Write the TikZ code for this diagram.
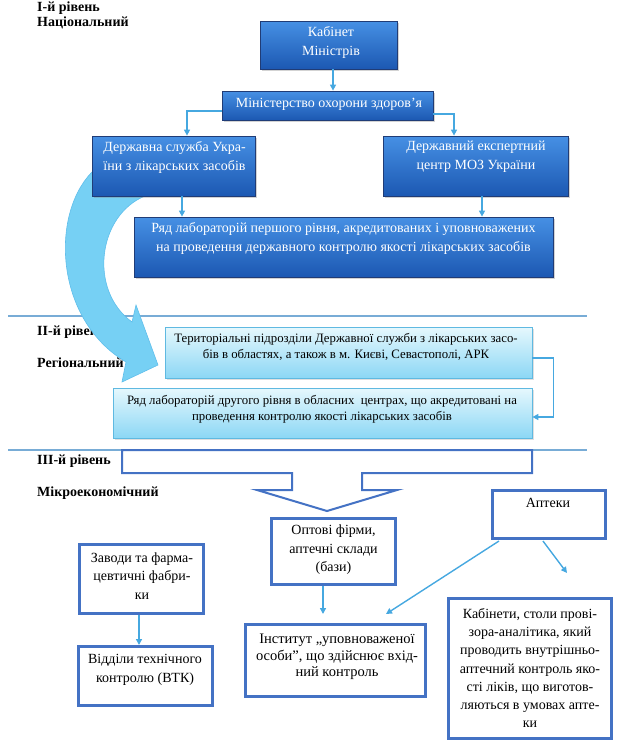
\documentclass[tikz,border=0pt]{standalone}
\usepackage{fontspec}
\setmainfont{Liberation Serif}
\newfontfamily\lser{Liberation Serif}
\usetikzlibrary{arrows.meta,shadows}
\definecolor{dkbtop}{RGB}{70,144,228}
\definecolor{dkbbot}{RGB}{28,88,178}
\definecolor{dkbdraw}{RGB}{32,60,118}
\definecolor{ltop}{RGB}{230,248,253}
\definecolor{lbot}{RGB}{140,215,245}
\definecolor{ldraw}{RGB}{95,185,225}
\definecolor{conncol}{RGB}{70,168,224}
\definecolor{sepcol}{RGB}{120,172,214}
\definecolor{bord}{RGB}{68,114,196}
\definecolor{bandcol}{RGB}{118,208,244}
\definecolor{banddraw}{RGB}{95,190,235}
\tikzset{
  darkbox/.style={draw=dkbdraw, line width=0.8pt, top color=dkbtop, bottom color=dkbbot,
    drop shadow={opacity=0.35, shadow xshift=2pt, shadow yshift=-2pt}},
  lightbox/.style={draw=ldraw, line width=0.8pt, top color=ltop, bottom color=lbot,
    drop shadow={opacity=0.25, shadow xshift=2pt, shadow yshift=-2pt}},
  whitebox/.style={draw=bord, line width=3pt, fill=white},
  wtxt/.style={text=white, align=center, inner sep=0pt, font=\lser\fontsize{14}{19}\selectfont},
  ltxt/.style={text=black, align=center, inner sep=0pt, font=\lser\fontsize{12.8}{16}\selectfont},
  btxt/.style={text=black, align=center, inner sep=0pt, font=\lser\fontsize{14}{18.5}\selectfont},
  lvl/.style={anchor=west, inner sep=0pt, font=\lser\bfseries\fontsize{14}{16}\selectfont},
  conn/.style={draw=conncol, line width=1.4pt, -{Triangle[length=6pt,width=6pt]}},
  sepline/.style={draw=sepcol, line width=1.5pt},
  bigarrow/.style={draw=bord, line width=2pt, fill=white, line join=miter},
  bandarrow/.style={fill=bandcol, draw=banddraw, line width=0.6pt}
}
\begin{document}
\begin{tikzpicture}[x=1pt,y=-1pt]
\useasboundingbox (0,0) rectangle (620,748);
% level separators
\draw[sepline] (8,316) -- (587,316);
\draw[sepline] (8,450) -- (587,450);
% level labels
\node[lvl] (l1a) at (37,8) {І-й рівень};
\node[lvl] (l1b) at (37,23) {Національний};
\node[lvl] (l2a) at (37,332) {ІІ-й рівень};
\node[lvl] (l2b) at (37,363) {Регіональний};
\node[lvl] (l3a) at (37,461) {ІІІ-й рівень};
\node[lvl] (l3b) at (37,493) {Мікроекономічний};
% curved wide arrow
\path[bandarrow] (92,172) .. controls (50,215) and (55,320) .. (126,362)
  -- (122,382) -- (158,365) -- (136,305) -- (132,322)
  .. controls (88,290) and (98,215) .. (145,196) -- cycle;
% level I boxes
\node[darkbox, minimum width=137, minimum height=48] (kab) at (328.5,45) {};
\node[wtxt] (kabt) at (331,42) {Кабінет\\Міністрів};
\node[darkbox, minimum width=211, minimum height=29] (min) at (327.5,105.5) {};
\node[wtxt] (mint) at (329,104) {Міністерство охорони здоров’я};
\node[darkbox, minimum width=163, minimum height=60] (dsl) at (173.5,166) {};
\node[wtxt] (dslt) at (174.5,157) {Державна служба Укра-\\їни з лікарських засобів};
\node[darkbox, minimum width=185, minimum height=60] (dec) at (475.5,166) {};
\node[wtxt] (dect) at (476,157) {Державний експертний\\центр МОЗ України};
\node[darkbox, minimum width=419, minimum height=60] (lab1) at (343.5,247) {};
\node[wtxt] (lab1t) at (343.5,238) {Ряд лабораторій першого рівня, акредитованих і уповноважених\\на проведення державного контролю якості лікарських засобів};
% level II boxes
\node[lightbox, minimum width=367, minimum height=51] (ter) at (348.5,352.5) {};
\node[ltxt] (tert) at (346,347) {Територіальні підрозділи Державної служби з лікарських засо-\\бів в областях, а також в м. Києві, Севастополі, АРК};
\node[lightbox, minimum width=419, minimum height=50] (lab2) at (322.5,413) {};
\node[ltxt] (lab2t) at (322,409) {Ряд лабораторій другого рівня в обласних\ \ центрах, що акредитовані на\\проведення контролю якості лікарських засобів};
% big hollow arrow
\draw[bigarrow] (122,450) -- (532,450) -- (532,473) -- (362,473) -- (362,490)
  -- (397,490) -- (327,511) -- (257,490) -- (292,490) -- (292,473) -- (122,473) -- cycle;
% level III boxes
\node[whitebox, minimum width=124, minimum height=66] (opt) at (333.5,551.5) {};
\node[btxt] (optt) at (333.5,550) {Оптові фірми,\\аптечні склади\\(бази)};
\node[whitebox, minimum width=113, minimum height=48] (apt) at (549,514.5) {};
\node[btxt] (aptt) at (548,503) {Аптеки};
\node[whitebox, minimum width=124, minimum height=69] (zav) at (141.5,579) {};
\node[btxt] (zavt) at (142,576) {Заводи та фарма-\\цевтичні фабри-\\ки};
\node[whitebox, minimum width=134, minimum height=59] (vid) at (145.5,676) {};
\node[btxt] (vidt) at (145,670) {Відділи технічного\\контролю (ВТК)};
\node[whitebox, minimum width=180, minimum height=72] (inst) at (335.5,660.5) {};
\node[btxt, font=\lser\fontsize{14.5}{16.5}\selectfont] (instt) at (337,657) {Інститут „уповноваженої\\особи”, що здійснює вхід-\\ний контроль};
\node[whitebox, minimum width=163, minimum height=140] (kabi) at (530,668.5) {};
\node[btxt, font=\lser\fontsize{14}{18.3}\selectfont] (kabit) at (530,668) {Кабінети, столи прові-\\зора-аналітика, який\\проводить внутрішньо-\\аптечний контроль яко-\\сті ліків, що виготов-\\ляються в умовах апте-\\ки};
% free ends
\coordinate (e1) at (323,614);
\coordinate (e2) at (386,614);
\coordinate (e3) at (567,573);
\coordinate (s2) at (499,541);
\coordinate (s3) at (543,541);
% connectors
\draw[conn] ([xshift=4.5pt]kab.south) -- ([xshift=4.5pt]kab.south |- min.north);
\draw[conn] ([yshift=-5.5pt]min.west) -| ([xshift=13.5pt]dsl.north);
\draw[conn] ([yshift=-8.5pt]min.east) -| ([xshift=-21.5pt]dec.north);
\draw[conn] ([xshift=8.5pt]dsl.south) -- ([xshift=8.5pt]dsl.south |- lab1.north);
\draw[conn] ([xshift=6.5pt]dec.south) -- ([xshift=6.5pt]dec.south |- lab1.north);
\draw[conn] ([yshift=-5.5pt]ter.east) -- ++(21,0) |- ([yshift=-4pt]lab2.east);
\draw[conn] ([xshift=-2.5pt]zav.south) -- ([xshift=-2.5pt]zav.south |- vid.north);
\draw[conn] (opt.south -| e1) -- (e1);
\draw[conn] (s2) -- (e2);
\draw[conn] (s3) -- (e3);
\end{tikzpicture}
\end{document}
